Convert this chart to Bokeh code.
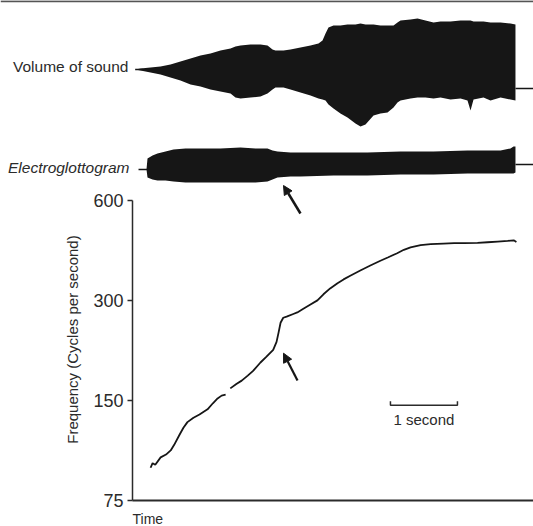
import math
from bokeh.plotting import figure
from bokeh.models import (Range1d, LinearScale, FixedTicker, PrintfTickFormatter,
                          Arrow, NormalHead)
from bokeh.core.properties import value
from bokeh.embed import file_html
from bokeh.resources import INLINE

nan = float("nan")

# ---- data (time in seconds) ----
# Frequency contour (Hz)
freq_t = [0.27, 0.30, 0.34, 0.42, 0.50, 0.57, 0.62, 0.70, 0.76, 0.82, 0.91, 1.00,
          1.12, 1.20, 1.27, 1.33, 1.39, nan, 1.46, 1.55, 1.63, 1.72, 1.80, 1.91,
          2.00, 2.10, 2.15, 2.18, 2.21, 2.25, 2.30, 2.40, 2.46, 2.55, 2.65, 2.76,
          2.85, 2.95, 3.06, 3.15, 3.25, 3.40, 3.55, 3.70, 3.81, 3.95, 4.05, 4.15,
          4.30, 4.45, 4.64, 4.80, 4.95, 5.15, 5.30, 5.45, 5.60, 5.69, 5.73]
freq_hz = [94, 97, 96, 101, 103, 106, 110, 118, 124, 129, 133, 136,
           141, 147, 152, 155, 156, nan, 163, 168, 172, 178, 184, 195,
           203, 213, 225, 240, 257, 266, 268, 273, 276, 283, 291, 300,
           313, 326, 338, 347, 356, 369, 382, 395, 404, 416, 426, 433,
           440, 443, 445, 446, 446, 447, 449, 451, 453, 455, 450]

# Volume of sound envelope (arbitrary amplitude units)
vol_t = [0.045, 0.119, 0.269, 0.418, 0.567, 0.716, 0.866, 1.015, 1.164, 1.313,
         1.463, 1.537, 1.612, 1.761, 1.910, 2.015, 2.090, 2.134, 2.254, 2.358,
         2.507, 2.657, 2.776, 2.836, 2.881, 2.925, 3.000, 3.104, 3.209, 3.328,
         3.403, 3.478, 3.597, 3.701, 3.806, 3.896, 3.955, 4.000, 4.149, 4.254,
         4.373, 4.493, 4.597, 4.746, 4.896, 5.000, 5.045, 5.090, 5.239, 5.343,
         5.493, 5.642, 5.716]
vol_upper = [1, 2, 3, 4, 6, 9, 12, 15, 17, 20,
             22, 24, 25, 26, 26, 25, 21, 20, 20, 21,
             23, 25, 27, 30, 37, 43, 45, 45, 46, 46,
             47, 46, 46, 45, 45, 45, 48, 50, 51, 52,
             50, 48, 49, 49, 50, 50, 50, 49, 49, 48,
             48, 47, 46]
vol_lower = [1, 0, -2, -4, -7, -10, -14, -16, -19, -21,
             -23, -27, -28, -27, -26, -23, -19, -17, -17, -19,
             -22, -25, -28, -29, -30, -34, -38, -43, -47, -53,
             -56, -54, -45, -43, -42, -37, -32, -30, -28, -27,
             -27, -28, -27, -29, -28, -30, -40, -29, -27, -30,
             -27, -29, -30]
vol_lead_t = [0.04, 0.16]
vol_lead_v = [1, 1]
vol_tail_t = [5.716, 6.0]
vol_tail_v = [-18, -18]

# Electroglottogram envelope
egg_t = [0.209, 0.224, 0.299, 0.373, 0.493, 0.612, 0.791, 1.015, 1.313, 1.612,
         1.836, 2.015, 2.090, 2.164, 2.358, 2.507, 3.000, 3.507, 4.000, 4.493,
         5.000, 5.493, 5.642, 5.687, 5.716]
egg_upper = [-99, -88, -85, -83, -81, -79, -78, -78, -78, -77,
             -78, -78, -80, -81, -82, -82, -82, -82, -81, -81,
             -80, -80, -78, -76, -76]
egg_lower = [-99, -107, -109, -110, -110, -111, -112, -112, -112, -112,
             -112, -111, -109, -107, -106, -106, -105, -105, -104, -104,
             -103, -103, -103, -103, -102]
egg_lead_t = [0.09, 0.23]
egg_lead_v = [-99, -99]
egg_tail_t = [5.716, 6.0]
egg_tail_v = [-94, -94]

# Rule along the top edge of the printed figure
top_rule_t = [-1.97, 5.985]
top_rule_v = [69.2, 69.2]

# Axis ticks
freq_ticks = [75, 150, 300, 600]

# Scale bar (1 second)
bar_t = [3.85, 3.85, 4.85, 4.85]
bar_hz = [149, 145, 145, 149]

# Arrows (time, value)
arrow1 = dict(t0=2.507, v0=-143, t1=2.254, v1=-115)
arrow2 = dict(t0=2.463, f0=172, t1=2.254, f1=208)

INK = "#161616"
TXT = "#2b2b2b"
FONT = "Liberation Sans"

p = figure(width=533, height=526, output_backend="svg", toolbar_location=None,
           y_axis_type="log", x_range=Range1d(-1.970, 5.985),
           y_range=Range1d(62.55, 2400),
           min_border_left=0, min_border_right=0, min_border_top=0,
           min_border_bottom=0)
p.extra_y_ranges = {"wave": Range1d(-456, 70)}
p.extra_y_scales = {"wave": LinearScale()}
p.outline_line_color = None
p.grid.visible = False
p.background_fill_color = "white"

# top rule
p.line(top_rule_t, top_rule_v, line_color="#555555", line_width=2, y_range_name="wave")

# waveforms
p.varea(x=vol_t, y1=vol_lower, y2=vol_upper, fill_color=INK, y_range_name="wave")
p.line(vol_lead_t, vol_lead_v, line_color=INK, line_width=1.5, y_range_name="wave")
p.line(vol_tail_t, vol_tail_v, line_color=INK, line_width=1.5, y_range_name="wave")
p.varea(x=egg_t, y1=egg_lower, y2=egg_upper, fill_color=INK, y_range_name="wave")
p.line(egg_lead_t, egg_lead_v, line_color=INK, line_width=1.5, y_range_name="wave")
p.line(egg_tail_t, egg_tail_v, line_color=INK, line_width=1.5, y_range_name="wave")

# frequency contour
p.line(freq_t, freq_hz, line_color=INK, line_width=1.8)

# scale bar
p.line(bar_t, bar_hz, line_color=TXT, line_width=1.5)
p.text(x=[sum(bar_t) / 4], y=[131], text=["1 second"], text_align="center",
       text_baseline="middle", text_font=value(FONT), text_font_size="15px",
       text_color=TXT)

# arrows
p.add_layout(Arrow(end=NormalHead(size=9, fill_color=INK, line_color=INK),
                   x_start=arrow1["t0"], y_start=arrow1["v0"],
                   x_end=arrow1["t1"], y_end=arrow1["v1"],
                   line_color=INK, line_width=2.5, y_range_name="wave"))
p.add_layout(Arrow(end=NormalHead(size=9, fill_color=INK, line_color=INK),
                   x_start=arrow2["t0"], y_start=arrow2["f0"],
                   x_end=arrow2["t1"], y_end=arrow2["f1"],
                   line_color=INK, line_width=2.2))

# trace labels, axis title and "Time"
p.text(x=[-0.06], y=[1518], text=["Volume of sound"], text_align="right",
       text_baseline="middle", text_font=value(FONT), text_font_size="15.5px",
       text_color=TXT)
p.text(x=[-0.045], y=[755], text=["Electroglottogram"], text_align="right",
       text_baseline="middle", text_font=value(FONT), text_font_size="15.5px",
       text_font_style="italic", text_color=TXT)
p.text(x=[-0.9], y=[232], text=["Frequency  (Cycles per second)"],
       angle=math.pi / 2, text_align="center", text_baseline="middle",
       text_font=value(FONT), text_font_size="15px", text_color=TXT)
p.text(x=[0.0], y=[65.8], text=["Time"], text_align="left",
       text_baseline="middle", text_font=value(FONT), text_font_size="14px",
       text_color=TXT)

# y axis drawn at t = 0
ya = p.yaxis[0]
ya.fixed_location = 0
ya.ticker = FixedTicker(ticks=freq_ticks)
ya.formatter = PrintfTickFormatter(format="%d")
ya.bounds = (75, 600)
ya.major_tick_out = 5
ya.major_tick_in = 0
ya.minor_tick_line_color = None
ya.major_tick_line_color = TXT
ya.major_tick_line_width = 1.5
ya.major_label_standoff = 4
ya.major_label_text_font = FONT
ya.major_label_text_font_size = "18px"
ya.major_label_text_color = TXT
ya.axis_line_color = TXT
ya.axis_line_width = 1.5

# x axis drawn at 75 Hz
xa = p.xaxis[0]
xa.fixed_location = 75
xa.bounds = (0, 6.0)
xa.ticker = FixedTicker(ticks=[])
xa.major_tick_line_color = None
xa.minor_tick_line_color = None
xa.axis_line_color = TXT
xa.axis_line_width = 2

open("out.html", "w").write(file_html(p, INLINE))
